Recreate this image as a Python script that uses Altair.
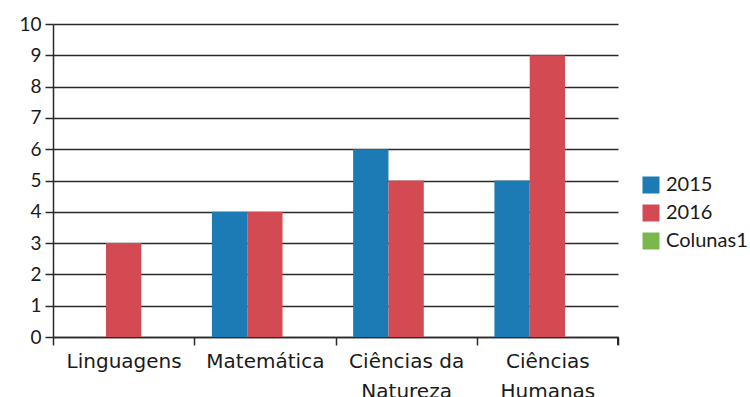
import altair as alt
import pandas as pd

# Subjects (x axis), series names and the values of each year
categories = ["Linguagens", "Matemática", "Ciências da Natureza", "Ciências Humanas"]
series = ["2015", "2016", "Colunas1"]
values_2015 = [0, 4, 6, 5]
values_2016 = [3, 4, 5, 9]
series_colors = ["#1c7bb5", "#d34a52", "#7ab84e"]
y_ticks = list(range(0, 11))

rows = []
for cat, v15, v16 in zip(categories, values_2015, values_2016):
    rows.append({"categoria": cat, "serie": "2015", "valor": v15})
    rows.append({"categoria": cat, "serie": "2016", "valor": v16})
df = pd.DataFrame(rows)

W, H = 565, 313
LINE = "#2a2a2a"

x_scale = alt.Scale(domain=categories, paddingInner=0, paddingOuter=0)

bars = alt.Chart(df).mark_bar().encode(
    x=alt.X(
        "categoria:N",
        sort=categories,
        scale=x_scale,
        axis=alt.Axis(
            title=None,
            labelAngle=0,
            tickBand="extent",
            labelAlign="center",
            tickSize=8,
            tickColor=LINE,
            tickWidth=1.5,
            domainColor=LINE,
            domainWidth=1.5,
            labelFont="DejaVu Sans",
            labelFontSize=20,
            labelColor="#1a1a1a",
            labelPadding=6,
            labelLineHeight=30,
            labelExpr="length(datum.label) > 12 ? [substring(datum.label, 0, lastindexof(datum.label, ' ')), substring(datum.label, lastindexof(datum.label, ' ') + 1)] : datum.label",
        ),
    ),
    xOffset=alt.XOffset(
        "serie:N",
        scale=alt.Scale(domain=series, paddingInner=0, paddingOuter=0.5),
    ),
    y=alt.Y(
        "valor:Q",
        scale=alt.Scale(domain=[0, 10], nice=False),
        axis=alt.Axis(
            title=None,
            values=y_ticks,
            grid=True,
            gridColor=LINE,
            gridWidth=1.5,
            gridOpacity=1,
            tickSize=8,
            tickColor=LINE,
            tickWidth=1.5,
            domainColor=LINE,
            domainWidth=1.5,
            labelFont="Lato",
            labelFontSize=19,
            labelColor="#1a1a1a",
            labelPadding=4,
        ),
    ),
    color=alt.Color(
        "serie:N",
        scale=alt.Scale(domain=series, range=series_colors),
        legend=alt.Legend(
            title=None,
            orient="none",
            legendX=588,
            legendY=151,
            padding=0,
            symbolType="square",
            symbolSize=289,
            symbolStrokeWidth=0,
            labelFont="Lato",
            labelFontSize=20,
            labelColor="#1a1a1a",
            labelOffset=5,
            rowPadding=8,
        ),
    ),
)

# closing tick at the right end of the category axis
end_tick = alt.Chart(df).mark_rule(color=LINE, strokeWidth=1.5).encode(
    x=alt.X(datum=categories[-1], bandPosition=1, scale=x_scale),
    y=alt.value(H),
    y2=alt.value(H + 8),
)

chart = (
    alt.layer(bars, end_tick)
    .properties(
        width=W,
        height=H,
        autosize=alt.AutoSizeParams(type="none"),
        padding={"left": 53, "top": 24, "right": 132, "bottom": 60},
        background="white",
    )
    .configure_view(stroke=None)
)

chart.save("out.html", embed_options={"renderer": "svg", "actions": False})
